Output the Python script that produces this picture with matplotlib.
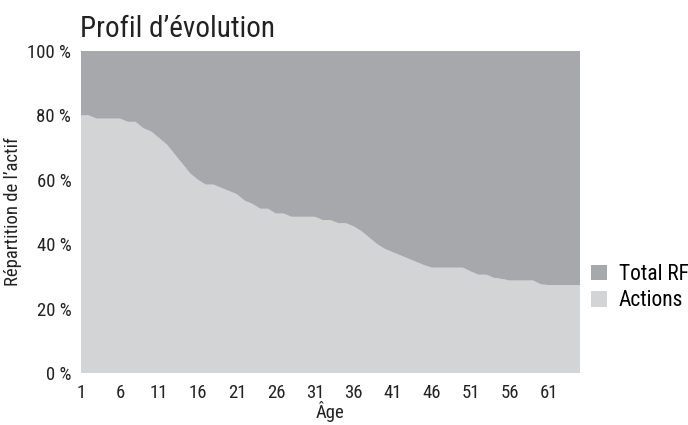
import matplotlib
matplotlib.use("Agg")
import matplotlib.pyplot as plt
import numpy as np

plt.rcParams['font.family'] = ['Roboto Condensed', 'Liberation Sans Narrow', 'Liberation Sans', 'DejaVu Sans']
plt.rcParams['font.stretch'] = 'condensed'

# Age (years) and share of equities, in %
ages = list(range(1, 66))
actions = [80, 80, 79, 79, 79, 79, 78, 78, 76, 75,
           73, 71, 68, 65, 62, 60, 58.5, 58.5, 57.5, 56.5,
           55.5, 53.5, 52.5, 51, 51, 49.5, 49.5, 48.5, 48.5, 48.5,
           48.5, 47.5, 47.5, 46.5, 46.5, 45.5, 44, 42, 40, 38.5,
           37.5, 36.5, 35.5, 34.5, 33.5, 32.7, 32.7, 32.7, 32.7, 32.7,
           31.5, 30.5, 30.5, 29.5, 29.2, 28.7, 28.7, 28.7, 28.7, 27.5,
           27.3, 27.3, 27.3, 27.3, 27.3]
total_rf = [100 - a for a in actions]
xticks = list(range(1, 62, 5))
yticks = [0, 20, 40, 60, 80, 100]

fig = plt.figure(figsize=(6.88, 4.25), dpi=100)
ax = fig.add_axes([0.1177, 0.1224, 0.7253, 0.7576])

ax.stackplot(ages, actions, total_rf, labels=['Actions', 'Total RF'],
             colors=['#d3d4d6', '#a7a8ab'], linewidth=0)

ax.set_xlim(1, 65)
ax.set_ylim(0, 100)
ax.set_xticks(xticks)
ax.set_yticks(yticks)
ax.set_yticklabels([f"{v} %" for v in yticks])
ax.tick_params(length=0, labelsize=13.5, colors='#222222')
ax.tick_params(axis='x', pad=8)
ax.tick_params(axis='y', pad=7)
for s in ax.spines.values():
    s.set_visible(False)

ax.set_xlabel("Âge", fontsize=13.5, labelpad=-1, color='#222222')
ax.set_ylabel("Répartition de l’actif", fontsize=13.5, labelpad=4, color='#222222')
fig.text(0.116, 0.932, "Profil d’évolution", fontsize=21, color='#222222',
         va='center', ha='left')

handles, labels = ax.get_legend_handles_labels()
ax.legend(handles[::-1], labels[::-1], loc='center left', bbox_to_anchor=(1.0, 0.265),
          frameon=False, fontsize=15.5, handlelength=0.75, handleheight=0.75,
          handletextpad=0.55, labelspacing=0.25, borderaxespad=0.1)

fig.savefig("out.png", dpi=100)
